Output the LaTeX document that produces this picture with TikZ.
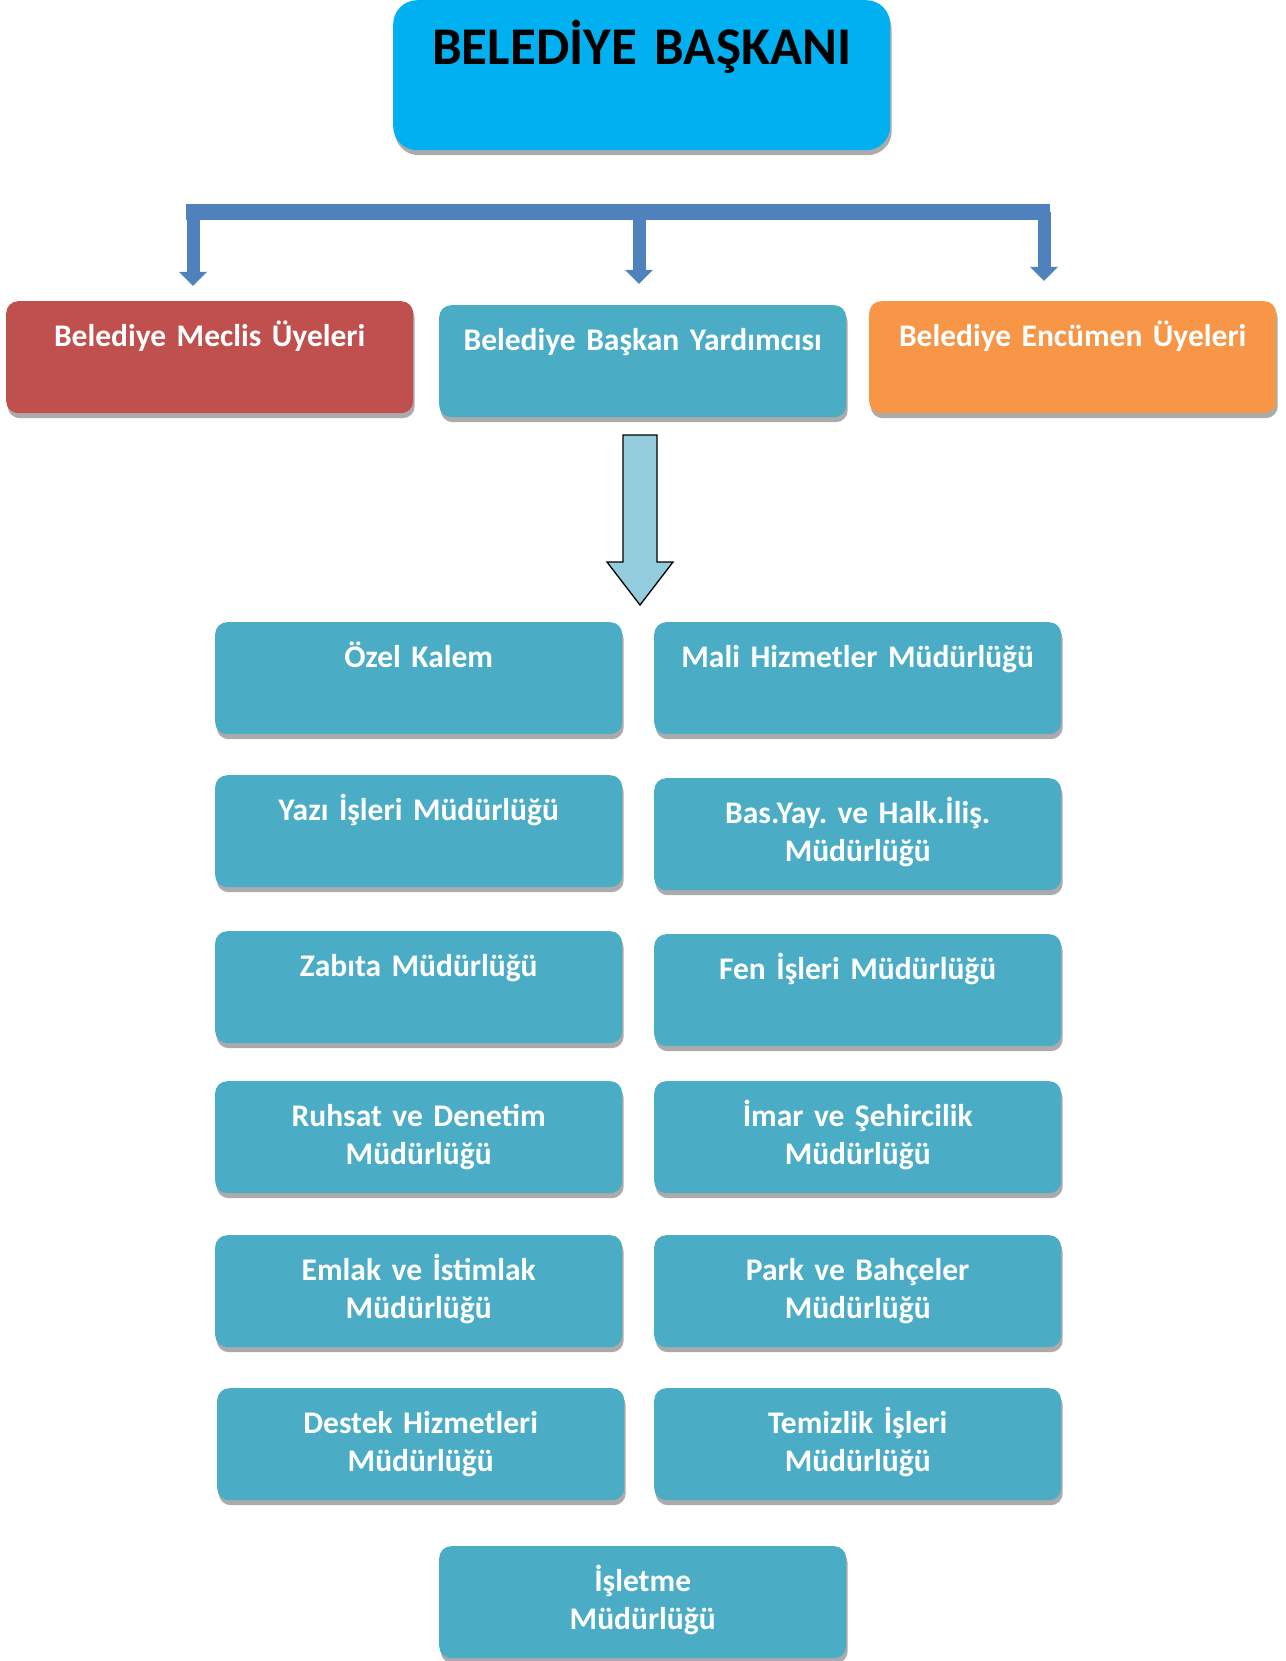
\documentclass[tikz,border=0pt]{standalone}
\usepackage{fontspec}
\setmainfont{Carlito}[WordSpace=0.85]
\frenchspacing
\usetikzlibrary{shadows,arrows.meta}
\definecolor{baskanblue}{HTML}{00B0F0}
\definecolor{meclisred}{HTML}{C0504D}
\definecolor{encumenorange}{HTML}{F79646}
\definecolor{unitteal}{HTML}{4BACC6}
\definecolor{busblue}{HTML}{4F81BD}
\definecolor{flowfill}{HTML}{93CDDD}
\definecolor{shadowgray}{HTML}{ABABAB}
\tikzset{
  unitbox/.style = {rectangle, rounded corners=12pt, fill=unitteal, minimum width=407pt, minimum height=112pt, inner sep=0pt, anchor=north west, general shadow={fill=shadowgray, shadow xshift=1.5pt, shadow yshift=-5pt}},
  meclisbox/.style = {unitbox, fill=meclisred},
  encumenbox/.style = {unitbox, fill=encumenorange},
  bossbox/.style = {unitbox, fill=baskanblue, rounded corners=24pt, minimum width=497pt, minimum height=150pt},
  unittext/.style = {anchor=base, text width=400pt, align=center, inner sep=0pt, text=white, font=\bfseries\fontsize{31.5}{38}\selectfont},
  bosstext/.style = {unittext, text width=490pt, text=black, font=\bfseries\fontsize{53}{60}\selectfont},
  bus/.style = {draw=busblue, line width=16pt},
  drop/.style = {draw=busblue, line width=13pt, -{Triangle[width=27pt, length=14pt]}},
  bigarrow/.style = {draw=black, line width=1.3pt, fill=flowfill, line join=miter}
}
\begin{document}
\begin{tikzpicture}[x=1pt, y=-1pt]
  \useasboundingbox (0,0) rectangle (1285,1661);
  % baskan
  \node [bossbox] (boss) at (393,0) {};
  \node [bosstext] (boss-t) at ([yshift=-65pt]boss.north) {BELEDİYE BAŞKANI};

  % second level
  \node [meclisbox] (meclis) at (6,301) {};
  \node [unitbox] (yard) at (439,305) {};
  \node [encumenbox] (encumen) at (869,301) {};
  \node [unittext] (meclis-t) at ([yshift=-45pt]meclis.north) {Belediye Meclis Üyeleri};
  \node [unittext] (yard-t) at ([yshift=-45pt]yard.north) {Belediye Başkan Yardımcısı};
  \node [unittext] (encumen-t) at ([yshift=-45pt]encumen.north) {Belediye Encümen Üyeleri};

  % bus
  \coordinate (busW) at (186,212);
  \coordinate (busE) at (1050,212);
  \coordinate (dropL) at (193,212);
  \coordinate (dropM) at (639,212);
  \coordinate (dropR) at (1044,212);
  \draw [bus] (busW) -- (busE);
  \draw [drop, shorten >=15pt] (dropL) -- (dropL |- meclis.north);
  \draw [drop, shorten >=21pt] (dropM) -- (dropM |- yard.north);
  \draw [drop, shorten >=20pt] (dropR) -- (dropR |- encumen.north);

  % mudurlukler
  \node [unitbox] (ozel) at (215,622) {};
  \node [unitbox] (mali) at (654,622) {};
  \node [unitbox] (yazi) at (215,775) {};
  \node [unitbox] (basyay) at (654,778) {};
  \node [unitbox] (zabita) at (215,931) {};
  \node [unitbox] (fen) at (654,934) {};
  \node [unitbox] (ruhsat) at (215,1081) {};
  \node [unitbox] (imar) at (654,1081) {};
  \node [unitbox] (emlak) at (215,1235) {};
  \node [unitbox] (park) at (654,1235) {};
  \node [unitbox] (destek) at (217,1388) {};
  \node [unitbox] (temizlik) at (654,1388) {};
  \node [unitbox] (isletme) at (439,1546) {};

  \node [unittext] (ozel-t) at ([yshift=-45pt]ozel.north) {Özel Kalem};
  \node [unittext] (mali-t) at ([yshift=-45pt]mali.north) {Mali Hizmetler Müdürlüğü};
  \node [unittext] (yazi-t) at ([yshift=-45pt]yazi.north) {Yazı İşleri Müdürlüğü};
  \node [unittext] (basyay-t) at ([yshift=-45pt]basyay.north) {Bas.Yay. ve Halk.İliş.\\Müdürlüğü};
  \node [unittext] (zabita-t) at ([yshift=-45pt]zabita.north) {Zabıta Müdürlüğü};
  \node [unittext] (fen-t) at ([yshift=-45pt]fen.north) {Fen İşleri Müdürlüğü};
  \node [unittext] (ruhsat-t) at ([yshift=-45pt]ruhsat.north) {Ruhsat ve Denetim\\Müdürlüğü};
  \node [unittext] (imar-t) at ([yshift=-45pt]imar.north) {İmar ve Şehircilik\\Müdürlüğü};
  \node [unittext] (emlak-t) at ([yshift=-45pt]emlak.north) {Emlak ve İstimlak\\Müdürlüğü};
  \node [unittext] (park-t) at ([yshift=-45pt]park.north) {Park ve Bahçeler\\Müdürlüğü};
  \node [unittext] (destek-t) at ([yshift=-45pt]destek.north) {Destek Hizmetleri\\Müdürlüğü};
  \node [unittext] (temizlik-t) at ([yshift=-45pt]temizlik.north) {Temizlik İşleri\\Müdürlüğü};
  \node [unittext] (isletme-t) at ([yshift=-45pt]isletme.north) {İşletme\\Müdürlüğü};

  % yardimci -> mudurlukler
  \coordinate (flow) at (640,435);
  \draw [bigarrow] (flow) ++(-17,0) -- ++(0,127) -- ++(-16,0) -- ++(33,43) -- ++(33,-43) -- ++(-16,0) -- ++(0,-127) -- cycle;
\end{tikzpicture}
\end{document}
